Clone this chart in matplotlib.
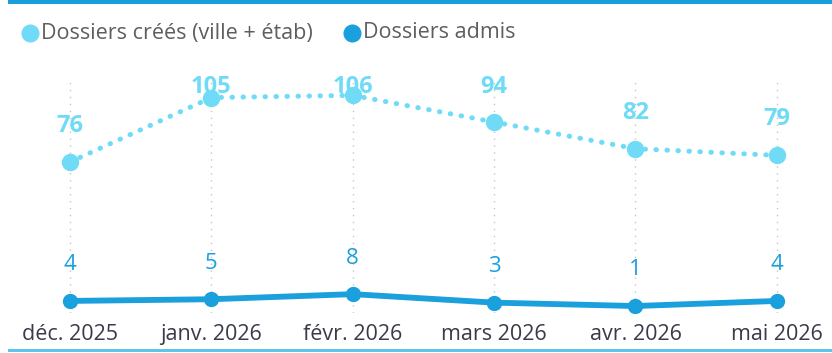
import matplotlib
matplotlib.use("Agg")
import matplotlib.pyplot as plt
from matplotlib.lines import Line2D
from matplotlib.patches import Rectangle
import numpy as np

# monthly counts
mois = ["déc. 2025", "janv. 2026", "févr. 2026", "mars 2026", "avr. 2026", "mai 2026"]
dossiers_crees = [76, 105, 106, 94, 82, 79]
dossiers_admis = [4, 5, 8, 3, 1, 4]

c_crees = "#6FDBF7"
c_admis = "#1AA0DC"

plt.rcParams["font.family"] = ["Open Sans", "DejaVu Sans"]

W, H = 832, 353
fig = plt.figure(figsize=(W / 100, H / 100), dpi=100)

# plot area in pixels: top 80, bottom 313
ax_top, ax_bot = 80, 313
ax = fig.add_axes([0, 1 - ax_bot / H, 1, (ax_bot - ax_top) / H])
ax2 = ax.twinx()

x = np.arange(len(mois))
ax.set_xlim(-0.495, 5.39)
ax.set_ylim(8.1, 112.9)
ax2.set_ylim(-3.1, 134)

for a in (ax, ax2):
    a.set_facecolor("none")
    for s in a.spines.values():
        s.set_visible(False)
    a.set_yticks([])

ax.set_xticks(x)
ax.set_xticklabels(mois, fontsize=15.5, color="#3B3A4A")
ax.tick_params(axis="x", length=0, pad=8)
ax.grid(axis="x", color="#C8C6C4", linestyle=(0, (1, 4)), linewidth=1)
ax.set_axisbelow(True)

# created files - dotted line
ax.plot(x, dossiers_crees, color=c_crees, linewidth=3.6,
        linestyle=(0, (0.1, 2.1)), dash_capstyle="round", zorder=3)
ax.plot(x, dossiers_crees, "o", color=c_crees, markersize=11.5, zorder=4)
for xi, v in zip(x, dossiers_crees):
    ax.text(xi, min(v + 16.2, 109.7), str(v), ha="center", va="center",
            fontsize=17, fontweight="bold", color=c_crees, zorder=5)

# admitted files - solid line
ax2.plot(x, dossiers_admis, color=c_admis, linewidth=4.2, zorder=3,
         marker="o", markersize=10, solid_capstyle="round")
for xi, v in zip(x, dossiers_admis):
    ax2.annotate(str(v), (xi, v), xytext=(0, 26), textcoords="offset points",
                 ha="center", va="center", fontsize=16, color=c_admis)

# legend
fig.add_artist(Line2D([30 / W], [1 - 33 / H], marker="o", color=c_crees,
                      markersize=12, transform=fig.transFigure))
fig.text(41 / W, 1 - 33 / H, "Dossiers créés (ville + étab)", fontsize=15.5,
         color="#605E5C", va="center", ha="left")
fig.add_artist(Line2D([352 / W], [1 - 33 / H], marker="o", color=c_admis,
                      markersize=12, transform=fig.transFigure))
fig.text(363 / W, 1 - 33 / H, "Dossiers admis", fontsize=15.5,
         color="#605E5C", va="center", ha="left")

# card borders
fig.add_artist(Rectangle((8 / W, 1 - 4 / H), 1, 4 / H, color="#1A9FDA",
                         transform=fig.transFigure, linewidth=0))
fig.add_artist(Rectangle((8 / W, 1 - 352 / H), 1, 3 / H, color="#5BC5EE",
                         transform=fig.transFigure, linewidth=0))

fig.savefig("out.png", dpi=100)
